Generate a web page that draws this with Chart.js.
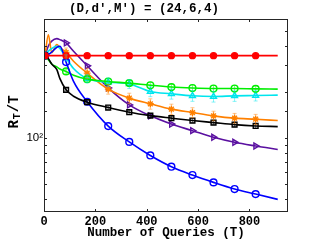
<!DOCTYPE html>
<html><head><meta charset="utf-8">
<script src="https://cdn.jsdelivr.net/npm/chart.js@4"></script>
<style>html,body{margin:0;padding:0;background:#fff}#c{display:block}</style>
</head><body>
<canvas id="c" width="319" height="240"></canvas>
<script>
const T = [4, 17, 30, 50, 62, 86, 115, 168, 250, 332, 414, 496, 578, 660, 742, 824, 910];
const markerT = [4, 86, 168, 250, 332, 414, 496, 578, 660, 742, 824];
const redVals    = [346, 346, 346, 346, 346, 346, 346, 346, 346, 346, 346, 346, 346, 346, 346, 346, 346];
const blueVals   = [346, 352, 365, 392, 398, 314, 235, 173, 120, 94.6, 77.2, 65.2, 57.5, 51.5, 46.6, 43.2, 39.9];
const blackVals  = [346, 330, 305, 280, 245, 207, 188, 172, 158.6, 147.9, 140.5, 135.2, 130.4, 126.5, 122.7, 120.3, 119.1];
const greenVals  = [346, 325, 305, 292, 283, 273, 258, 243, 234.6, 229, 221.6, 215.7, 212.5, 211, 211, 210, 209.3];
const cyanVals   = [346, 370, 385, 400, 385, 335, 285, 245, 232, 226, 201.8, 195, 189.2, 187.2, 189, 190, 191.2];
const orangeVals = [346, 474, 362, 408, 390, 363, 318, 266, 209, 182.7, 167.7, 154.8, 147.1, 140, 135.2, 133.1, 130.4];
const purpleVals = [346, 400, 430, 447, 440, 418.6, 370, 297, 213, 165, 140, 123.7, 112, 101.5, 94.1, 89.0, 84.5];
const greenErr  = [0,0,0,0,0,10,0,10,10,10,10,10,10,10,10,10,0];
const cyanErr   = [0,0,0,0,0,15,0,15,15,15,15,15,15,15,15,15,0];
const orangeErr = [0,0,0,0,0,25,0,20,15,14,13,12,11,10,10,10,0];
const blackErr  = [0,0,0,0,0,4,0,4,4,4,4,4,4,4,4,4,0];
const xTicks = [0, 200, 400, 600, 800];

function pts(vals){ return T.map((t,i)=>({x:t,y:vals[i]})); }
function ds(vals, color, style, err, rot){
  return {
    data: pts(vals), borderColor: color, backgroundColor: style==='filled'? color : 'rgba(0,0,0,0)',
    pointBorderColor: color, pointBackgroundColor: style==='filled'? color : 'rgba(0,0,0,0)',
    borderWidth: 1.6, pointBorderWidth: 1.4,
    pointStyle: style==='filled' ? 'circle' : style,
    pointRotation: rot||0,
    pointRadius: ctx => markerT.includes(T[ctx.dataIndex]) ? (style==='filled'?3:3.4) : 0,
    pointHoverRadius: 0,
    cubicInterpolationMode: 'monotone', fill: false, errs: err
  };
}
const tickPlugin = {
  id: 'ticksInside',
  afterDatasetsDraw(chart){
    const {ctx, scales:{x, y}} = chart;
    chart.data.datasets.forEach((d) => {
      if (!d.errs) return;
      ctx.save(); ctx.strokeStyle = d.borderColor; ctx.lineWidth = 0.8; ctx.globalAlpha=0.6;
      d.data.forEach((p, i) => {
        const e = d.errs[i]; if (!e) return;
        const px = x.getPixelForValue(p.x), y1 = y.getPixelForValue(p.y + e), y2 = y.getPixelForValue(p.y - e);
        ctx.beginPath(); ctx.moveTo(px, y1); ctx.lineTo(px, y2);
        ctx.moveTo(px-2, y1); ctx.lineTo(px+2, y1); ctx.moveTo(px-2, y2); ctx.lineTo(px+2, y2); ctx.stroke();
      });
      ctx.restore();
    });
  },
  afterDraw(chart){
    const {ctx, chartArea:a, scales:{x, y}} = chart;
    ctx.save(); ctx.strokeStyle = '#262626'; ctx.lineWidth = 1;
    ctx.strokeRect(Math.round(a.left)+0.5, Math.round(a.top)+0.5, Math.round(a.right-a.left)-1, Math.round(a.bottom-a.top)-1);
    ctx.beginPath();
    x.ticks.forEach(t => { const px = Math.round(x.getPixelForValue(t.value))+0.5;
      ctx.moveTo(px, a.bottom); ctx.lineTo(px, a.bottom-3); ctx.moveTo(px, a.top); ctx.lineTo(px, a.top+3); });
    y.ticks.forEach(t => { const py = Math.round(y.getPixelForValue(t.value))+0.5;
      if (py < a.top+1 || py > a.bottom-1) return;
      ctx.moveTo(a.left, py); ctx.lineTo(a.left+3, py); ctx.moveTo(a.right, py); ctx.lineTo(a.right-3, py); });
    ctx.stroke();
    ctx.fillStyle = '#000';
    ctx.translate(14, 112); ctx.rotate(-Math.PI/2);
    ctx.textBaseline = 'middle';
    const big = 'bold 14px "Liberation Mono"', small = 'bold 10px "Liberation Mono"';
    ctx.font = big; const wR = ctx.measureText('R').width, wS = ctx.measureText('/T').width;
    ctx.font = small; const wT = ctx.measureText('T').width;
    let xx = -(wR + wT + wS + 2)/2;
    ctx.font = big; ctx.textAlign = 'left'; ctx.fillText('R', xx, 0); xx += wR + 1;
    ctx.font = small; ctx.fillText('T', xx, 3); xx += wT + 1;
    ctx.font = big; ctx.fillText('/T', xx, 0);
    ctx.restore();
  }
};
new Chart(document.getElementById('c'), {
  type: 'line',
  data: { datasets: [
    ds(redVals, '#ff0000', 'filled'),
    ds(blackVals, '#000000', 'rect', blackErr),
    ds(blueVals, '#0000ff', 'circle'),
    ds(greenVals, '#00ee00', 'circle', greenErr),
    ds(cyanVals, '#00e5ee', 'triangle', cyanErr),
    ds(orangeVals, '#ff8000', 'star', orangeErr),
    ds(purpleVals, '#5a10a0', 'triangle', null, 90)
  ]},
  options: {
    responsive: false, animation: false, devicePixelRatio: 1,
    layout: { padding: { left: 0, right: 31, top: 0, bottom: 0 } },
    plugins: {
      legend: { display: false }, tooltip: { enabled: false },
      title: { display: true, text: "(D,d',M') = (24,6,4)", color: '#000',
        font: { family: 'Liberation Mono', weight: 'bold', size: 12.5 }, padding: { top: 1, bottom: 3 } }
    },
    scales: {
      x: { type: 'linear', min: 0, max: 950,
        afterBuildTicks: s => { s.ticks = xTicks.map(v => ({value: v})); },
        afterFit: s => { s.height = 28; },
        grid: { display: false, drawTicks: false }, border: { display: false },
        ticks: { padding: 3, color: '#000', font: { family: 'Liberation Mono', weight: 'bold', size: 12 }, maxRotation: 0 },
        title: { display: true, text: 'Number of Queries (T)', color: '#000', padding: { top: 0, bottom: 0 },
          font: { family: 'Liberation Mono', weight: 'bold', size: 12.5 } }
      },
      y: { type: 'logarithmic', min: 33, max: 600,
        afterFit: s => { s.width = 44; },
        grid: { display: false, drawTicks: false }, border: { display: false },
        ticks: { autoSkip: false, padding: 1, color: '#000', font: { family: 'Liberation Sans', size: 11.5 },
          callback: v => (v === 100 ? '10²' : '') },
        title: { display: false }
      }
    }
  },
  plugins: [tickPlugin]
});
</script>
</body></html>
